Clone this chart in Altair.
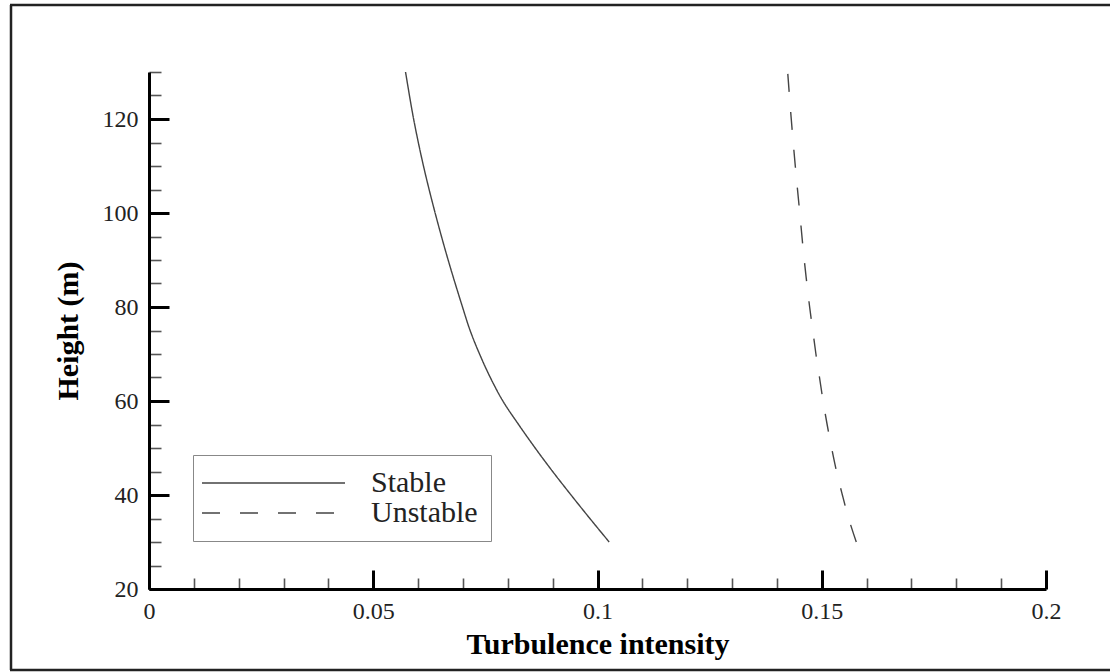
import altair as alt
import pandas as pd

# ---- data ----
heights = [30, 35, 40, 45, 50, 55, 60, 65, 70, 75, 80, 90, 100, 110, 120, 130]
stable = [0.1026, 0.0983, 0.0941, 0.0900, 0.0861, 0.0824, 0.0789, 0.0761,
          0.0737, 0.0716, 0.0699, 0.0667, 0.0638, 0.0612, 0.0590, 0.0572]
unstable = [0.1577, 0.1560, 0.1546, 0.1533, 0.1522, 0.1512, 0.1503, 0.1495,
            0.1487, 0.1480, 0.1473, 0.1461, 0.1451, 0.1441, 0.1432, 0.1424]
series_names = ["Stable", "Unstable"]

x_major = [0, 0.05, 0.1, 0.15, 0.2]
x_minor = [0.01, 0.02, 0.03, 0.04, 0.06, 0.07, 0.08, 0.09, 0.11, 0.12,
           0.13, 0.14, 0.16, 0.17, 0.18, 0.19]
y_major = [20, 40, 60, 80, 100, 120]
y_minor = [25, 30, 35, 45, 50, 55, 65, 70, 75, 85, 90, 95, 105, 110,
           115, 125, 130]

rows = []
for name, vals in zip(series_names, [stable, unstable]):
    for h, v in zip(heights, vals):
        rows.append({"series": name, "ti": v, "h": h})
df = pd.DataFrame(rows)

W, H = 897, 517
FONT = "Liberation Serif"
xscale = alt.Scale(domain=[0, 0.2], nice=False, zero=False)
yscale = alt.Scale(domain=[20, 130], nice=False, zero=False)

# outer frame: left, top and bottom edges
one = pd.DataFrame({"k": [0]})
frame_left = alt.Chart(one).mark_rule(color="#222", strokeWidth=2.5).encode(
    x=alt.value(-138), y=alt.value(-67), y2=alt.value(598))
frame_top = alt.Chart(one).mark_rule(color="#222", strokeWidth=2.5).encode(
    x=alt.value(-139), x2=alt.value(961), y=alt.value(-67))
frame_bottom = alt.Chart(one).mark_rule(color="#222", strokeWidth=2.5).encode(
    x=alt.value(-139), x2=alt.value(961), y=alt.value(598))


def tick_layer(xvals, yvals, xsize, ysize, width, color):
    return alt.Chart(df).mark_point(opacity=0).encode(
        x=alt.X("ti:Q", scale=xscale,
                axis=alt.Axis(orient="top", offset=-H, values=xvals,
                              tickSize=xsize, tickWidth=width, tickColor=color,
                              labels=False, domain=False, grid=False, title=None)),
        y=alt.Y("h:Q", scale=yscale,
                axis=alt.Axis(orient="right", offset=-W, values=yvals,
                              tickSize=ysize, tickWidth=width, tickColor=color,
                              labels=False, domain=False, grid=False, title=None)),
    )


major = tick_layer(x_major, y_major, 19, 20, 3, "black")
minor = tick_layer(x_minor, y_minor, 11, 12, 1.6, "#555")

lines = alt.Chart(df).mark_line(
    color="#444", strokeWidth=1.4, interpolate="catmull-rom"
).encode(
    x=alt.X("ti:Q", scale=xscale,
            axis=alt.Axis(orient="bottom", values=x_major, format=".2~f",
                          ticks=False, grid=False, domainWidth=3,
                          domainColor="black", labelFont=FONT,
                          labelFontSize=24, labelColor="#222",
                          labelPadding=10, labelFlush=False,
                          title="Turbulence intensity",
                          titleFont=FONT, titleFontSize=30,
                          titleFontWeight="bold", titleColor="black",
                          titlePadding=6)),
    y=alt.Y("h:Q", scale=yscale,
            axis=alt.Axis(orient="left", values=y_major, ticks=False,
                          grid=False, domainWidth=3, domainColor="black",
                          labelFont=FONT, labelFontSize=24, labelColor="#222",
                          labelPadding=11, labelFlush=False,
                          title="Height (m)", titleFont=FONT,
                          titleFontSize=30, titleFontWeight="bold",
                          titleColor="black", titlePadding=19)),
    strokeDash=alt.StrokeDash(
        "series:N",
        scale=alt.Scale(domain=series_names, range=[[1, 0], [18, 20]]),
        legend=alt.Legend(title=None, orient="none", legendX=44, legendY=383,
                          direction="vertical", fillColor="white",
                          strokeColor="#888", padding=13,
                          symbolType="M-19,0H124", symbolSize=4,
                          symbolStrokeWidth=1.4, symbolStrokeColor="#444",
                          labelFont=FONT, labelFontSize=30, labelColor="#222",
                          labelOffset=135, rowPadding=0),
    ),
    order=alt.Order("h:Q"),
)

chart = alt.layer(frame_left, frame_top, frame_bottom, minor, major, lines).resolve_axis(
    x="independent", y="independent"
).properties(
    width=W, height=H,
    background="white",
    autosize=alt.AutoSizeParams(type="none"),
    padding={"left": 149, "top": 72, "right": 64, "bottom": 83},
).configure_view(stroke=None)

chart.save("out.html", embed_options={"renderer": "svg", "actions": False})
